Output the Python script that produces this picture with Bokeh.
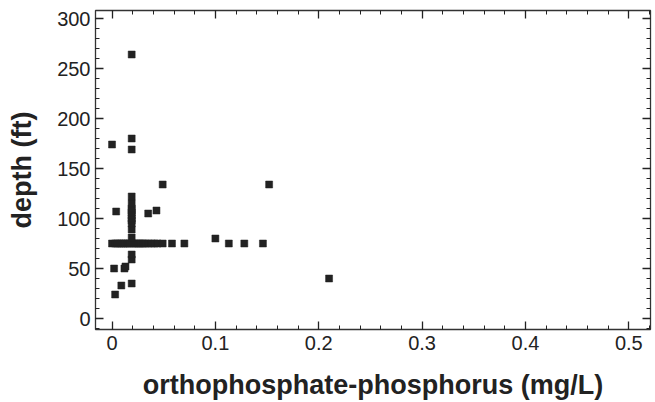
from bokeh.plotting import figure
from bokeh.models import (ColumnDataSource, Range1d, FixedTicker, LinearAxis,
                          CustomJSTickFormatter)
from bokeh.embed import file_html
from bokeh.resources import INLINE

# --- data ---
phosphorus = [
    # horizontal band at ~75 ft
    0.000, 0.003, 0.005, 0.007, 0.009, 0.011, 0.013, 0.015, 0.017, 0.020,
    0.022, 0.024, 0.026, 0.028, 0.030, 0.032, 0.035, 0.038, 0.041, 0.044,
    0.049, 0.058, 0.070, 0.113, 0.128, 0.146,
    # column at ~0.02 mg/L
    0.019, 0.019, 0.019, 0.019, 0.019, 0.019, 0.019, 0.019, 0.019, 0.019,
    0.019, 0.019, 0.019, 0.019, 0.019, 0.019, 0.019,
    # scattered points
    0.004, 0.035, 0.043, 0.049, 0.152, 0.100, 0.002, 0.012, 0.013, 0.009,
    0.003, 0.000, 0.210,
]
depth = [
    75, 75, 75, 75, 75, 75, 75, 75, 75, 75,
    75, 75, 75, 75, 75, 75, 75, 75, 75, 75,
    75, 75, 75, 75, 75, 75,
    35, 59, 64, 81, 89, 95, 98, 100, 103, 106,
    108, 110, 115, 122, 169, 180, 264,
    107, 105, 108, 134, 134, 80, 50, 50, 52, 33,
    24, 174, 40,
]

x_ticks = [0, 0.1, 0.2, 0.3, 0.4, 0.5]
x_tick_labels = ["0", "0.1", "0.2", "0.3", "0.4", "0.5"]
x_minor = [round(i * 0.02, 2) for i in range(0, 27)]
y_ticks = [0, 50, 100, 150, 200, 250, 300]
y_tick_labels = ["0", "50", "100", "150", "200", "250", "300"]
y_minor = list(range(-10, 310, 10))

source = ColumnDataSource(data=dict(x=phosphorus, y=depth))

p = figure(width=655, height=402, output_backend="svg", toolbar_location=None,
           x_range=Range1d(-0.016, 0.521), y_range=Range1d(-11, 308),
           min_border_left=95, min_border_right=5, min_border_top=10,
           min_border_bottom=72, background_fill_color="white",
           border_fill_color="white")

p.grid.visible = False
p.outline_line_color = "#333333"
p.outline_line_width = 1.3

p.scatter("x", "y", source=source, marker="square", size=7,
          fill_color="#222222", line_color="#222222", line_width=0.5)

FONT = "Liberation Sans"

def style_axis(ax):
    ax.axis_line_color = None
    ax.major_tick_in = 8
    ax.major_tick_out = 0
    ax.minor_tick_in = 4
    ax.minor_tick_out = 0
    ax.major_tick_line_color = "#222222"
    ax.minor_tick_line_color = "#222222"
    ax.major_tick_line_width = 1.3
    ax.minor_tick_line_width = 1.0
    ax.major_label_text_font = FONT
    ax.major_label_text_color = "#222222"
    ax.axis_label_text_font = FONT
    ax.axis_label_text_font_style = "bold"
    ax.axis_label_text_color = "#222222"

xt = FixedTicker(ticks=x_ticks, minor_ticks=x_minor)
yt = FixedTicker(ticks=y_ticks, minor_ticks=y_minor)

xa = p.xaxis[0]
xa.ticker = xt
xa.major_label_overrides = dict(zip(x_ticks, x_tick_labels))
xa.axis_label = "orthophosphate-phosphorus (mg/L)"
style_axis(xa)
xa.major_label_text_font_size = "20px"
xa.major_label_standoff = 6
xa.axis_label_text_font_size = "27px"
xa.axis_label_standoff = 17

ya = p.yaxis[0]
ya.ticker = yt
ya.major_label_overrides = dict(zip(y_ticks, y_tick_labels))
ya.axis_label = "depth (ft)"
style_axis(ya)
ya.major_label_text_font_size = "20px"
ya.major_label_standoff = 5
ya.axis_label_text_font_size = "27px"
ya.axis_label_standoff = 17

blank = CustomJSTickFormatter(code="return '';")
top = LinearAxis(ticker=FixedTicker(ticks=x_ticks, minor_ticks=x_minor),
                 formatter=blank)
style_axis(top)
top.major_label_text_font_size = "1px"
top.major_label_standoff = 0
p.add_layout(top, "above")
right = LinearAxis(ticker=FixedTicker(ticks=y_ticks, minor_ticks=y_minor),
                   formatter=blank)
style_axis(right)
right.major_label_text_font_size = "1px"
right.major_label_standoff = 0
p.add_layout(right, "right")

open("out.html", "w").write(file_html(p, INLINE))
